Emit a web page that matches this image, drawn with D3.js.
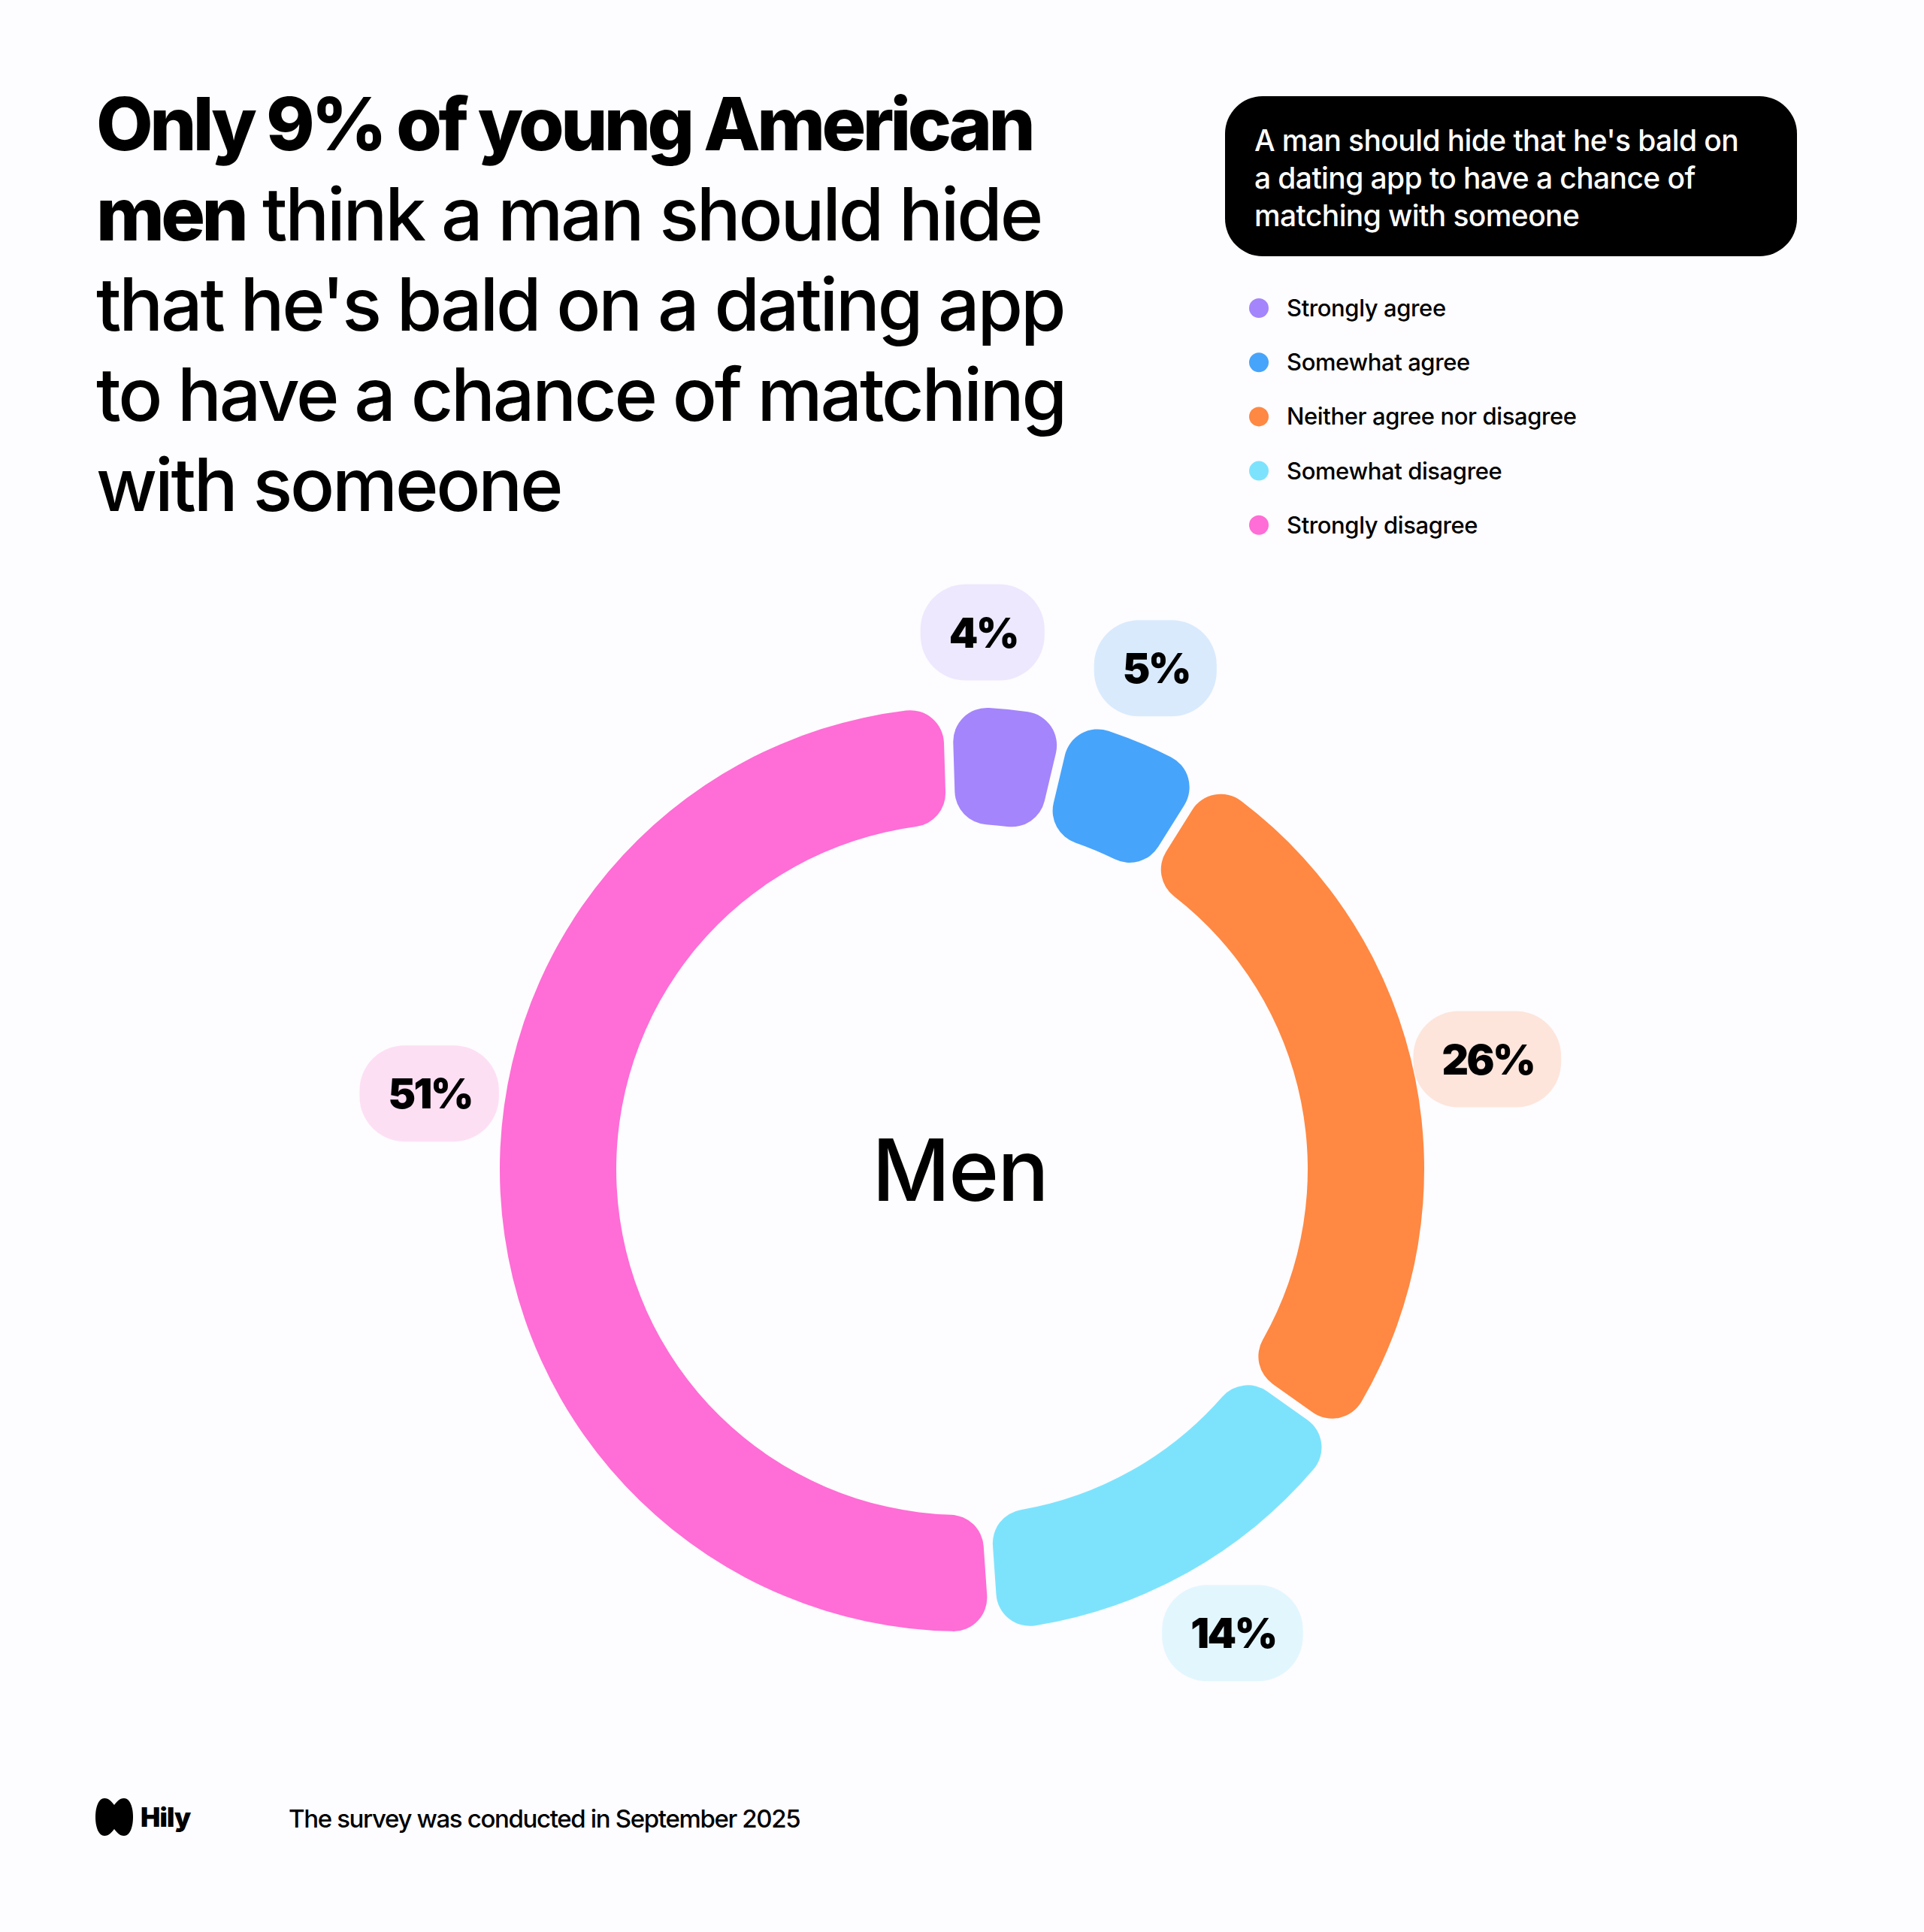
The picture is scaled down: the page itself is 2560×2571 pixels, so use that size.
<!DOCTYPE html>
<html>
<head>
<meta charset="utf-8">
<script src="https://cdn.jsdelivr.net/npm/d3@7"></script>
<style>
  body { margin: 0; background: #fdfcfe; }
  svg { display: block; font-family: Inter, "Noto Sans", sans-serif; }
</style>
</head>
<body>
<div id="chart"></div>
<script>
// data
const categories = ['Strongly agree', 'Somewhat agree', 'Neither agree nor disagree', 'Somewhat disagree', 'Strongly disagree'];
const values = [4, 5, 26, 14, 51];
const colors = ['#a485fc', '#47a4fb', '#ff8843', '#7de3fd', '#ff6dd6'];
const pillColors = ['#ede8fe', '#d9eafd', '#fde5db', '#e2f6fe', '#fddff4'];

const titleLines = [
  [{ t: 'Only 9% of young American', b: true }],
  [{ t: 'men', b: true }, { t: ' think a man should hide', b: false }],
  [{ t: "that he's bald on a dating app", b: false }],
  [{ t: 'to have a chance of matching', b: false }],
  [{ t: 'with someone', b: false }]
];
const questionLines = ["A man should hide that he's bald on", 'a dating app to have a chance of', 'matching with someone'];
const centerLabel = 'Men';
const footnote = 'The survey was conducted in September 2025';

const W = 2560, H = 2571;
const cx = 1280, cy = 1556;
const outerR = 615, innerR = 460, labelR = 715;
const startDeg = -1.8;
// the pills are placed by hand in the original, slightly off the slice middles (degrees)
const labelShift = [-3.5, -1.5, -0.5, -1, 11];

const svg = d3.select('#chart')
  .append('svg')
  .attr('width', W)
  .attr('height', H);

svg.append('rect')
  .attr('width', W)
  .attr('height', H)
  .attr('fill', '#fdfcfe');

// title
const title = svg.append('text')
  .attr('x', 128)
  .attr('y', 200)
  .style('font-size', '98px')
  .attr('fill', '#000');

titleLines.forEach((line, i) => {
  line.forEach((part, j) => {
    const ts = title.append('tspan')
      .text(part.t)
      .style('font-weight', part.b ? 800 : 500)
      .style('letter-spacing', part.b ? '-4.6px' : '-3.2px');
    if (j === 0) ts.attr('x', 128).attr('y', 200 + i * 120);
  });
});

// question box
svg.append('rect')
  .attr('x', 1630)
  .attr('y', 128)
  .attr('width', 761)
  .attr('height', 213)
  .attr('rx', 50)
  .attr('fill', '#000');

svg.selectAll('.question')
  .data(questionLines)
  .enter()
  .append('text')
  .attr('class', 'question')
  .attr('x', 1669)
  .attr('y', (d, i) => 201 + i * 50)
  .attr('fill', '#fff')
  .style('font-size', '39px')
  .style('font-weight', 500)
  .style('letter-spacing', '-0.6px')
  .text(d => d);

// legend
const legend = svg.selectAll('.legend')
  .data(categories)
  .enter()
  .append('g')
  .attr('class', 'legend')
  .attr('transform', (d, i) => `translate(1675, ${410 + i * 72.2})`);

legend.append('circle')
  .attr('r', 13)
  .attr('fill', (d, i) => colors[i]);

legend.append('text')
  .attr('x', 37)
  .attr('y', 11)
  .style('font-size', '31px')
  .style('font-weight', 500)
  .style('letter-spacing', '-0.4px')
  .text(d => d);

// donut
const rad = Math.PI / 180;
const pie = d3.pie()
  .sort(null)
  .value(d => d)
  .startAngle(startDeg * rad)
  .endAngle(2 * Math.PI + startDeg * rad)
  .padAngle(0.016);

const arc = d3.arc()
  .innerRadius(innerR)
  .outerRadius(outerR)
  .cornerRadius(45);

const arcs = pie(values);
const g = svg.append('g').attr('transform', `translate(${cx}, ${cy})`);

g.selectAll('.slice')
  .data(arcs)
  .enter()
  .append('path')
  .attr('class', 'slice')
  .attr('d', arc)
  .attr('fill', (d, i) => colors[i]);

// value pills
const pills = g.selectAll('.pill')
  .data(arcs)
  .enter()
  .append('g')
  .attr('class', 'pill')
  .attr('transform', (d, i) => {
    const a = (d.startAngle + d.endAngle) / 2 + labelShift[i] * rad;
    return `translate(${labelR * Math.sin(a)}, ${-labelR * Math.cos(a)})`;
  });

pills.append('text')
  .attr('text-anchor', 'middle')
  .attr('y', 20)
  .style('font-size', '55px')
  .style('font-weight', 900)
  .style('letter-spacing', '-2.5px')
  .text(d => `${d.data}%`);

pills.each(function (d, i) {
  const p = d3.select(this);
  const w = p.select('text').node().getComputedTextLength() + 74;
  p.insert('rect', 'text')
    .attr('x', -w / 2 - 1)
    .attr('y', -64)
    .attr('width', w)
    .attr('height', 128)
    .attr('rx', 60)
    .attr('fill', pillColors[i]);
});

g.append('text')
  .attr('text-anchor', 'middle')
  .attr('x', -3)
  .attr('y', 42)
  .style('font-size', '114px')
  .style('font-weight', 500)
  .style('letter-spacing', '-2px')
  .text(centerLabel);

// footer
svg.append('path')
  .attr('transform', 'translate(127, 2393)')
  .attr('d', 'M12,0 C4,0 0,12 0,25 C0,38 4,50 12,50 C18,50 22,45 25,41 C28,45 32,50 38,50 C46,50 50,38 50,25 C50,12 46,0 38,0 C32,0 28,5 25,9 C22,5 18,0 12,0 Z')
  .attr('fill', '#000');

svg.append('text')
  .attr('x', 187)
  .attr('y', 2431)
  .style('font-size', '35px')
  .style('font-weight', 900)
  .style('letter-spacing', '-0.8px')
  .text('Hily');

svg.append('text')
  .attr('x', 384)
  .attr('y', 2432)
  .style('font-size', '33px')
  .style('font-weight', 500)
  .style('letter-spacing', '-1.35px')
  .text(footnote);
</script>
</body>
</html>
